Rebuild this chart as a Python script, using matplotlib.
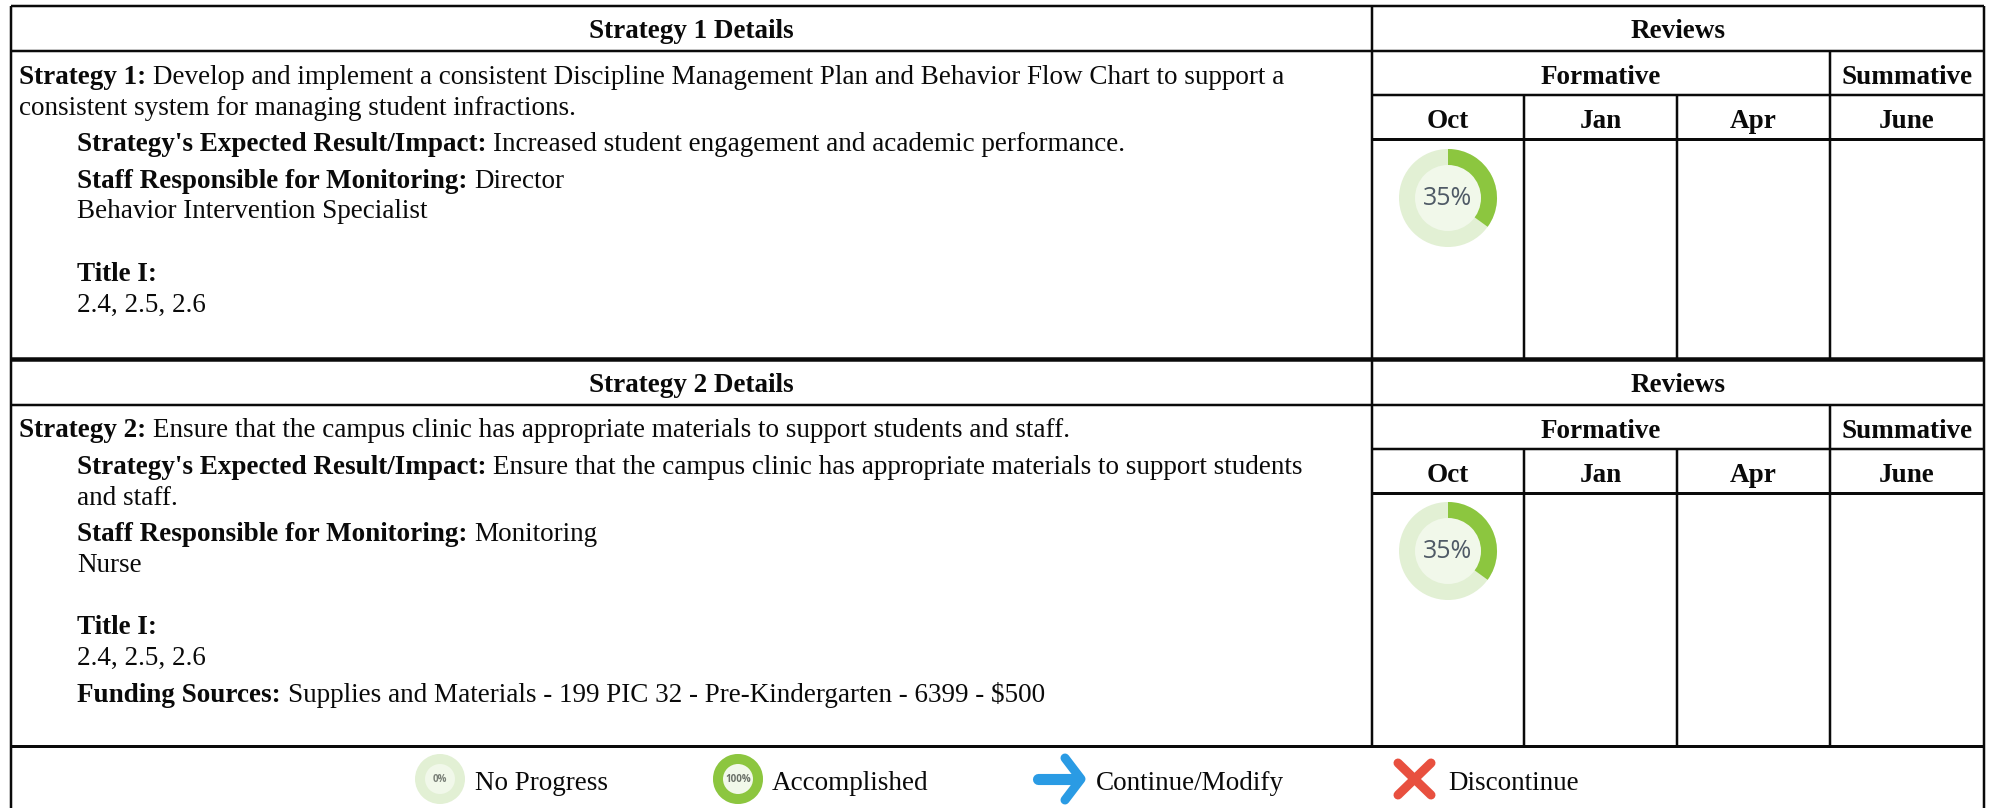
import matplotlib
matplotlib.use("Agg")
import matplotlib.pyplot as plt
from matplotlib.patches import Wedge, Circle

W, H = 1993, 808
SERIF = "Liberation Serif"
FS = 19.5
INK = "#0a0a0a"
DY = 1

# ---- content ----
strategy_titles = ["Strategy 1 Details", "Strategy 2 Details"]
review_months = ["Oct", "Jan", "Apr", "June"]
review_progress = [35, 35]          # Oct review, one per strategy
legend_labels = ["No Progress", "Accomplished", "Continue/Modify", "Discontinue"]
legend_progress = [0, 100]

strategy_1_lines = [
    (19, 83, "Strategy 1:", "Develop and implement a consistent Discipline Management Plan and Behavior Flow Chart to support a"),
    (19, 114, "", "consistent system for managing student infractions."),
    (77, 150, "Strategy's Expected Result/Impact:", "Increased student engagement and academic performance."),
    (77, 187, "Staff Responsible for Monitoring:", "Director"),
    (77, 217, "", "Behavior Intervention Specialist"),
    (77, 280, "Title I:", ""),
    (77, 311, "", "2.4, 2.5, 2.6"),
]
strategy_2_lines = [
    (19, 436, "Strategy 2:", "Ensure that the campus clinic has appropriate materials to support students and staff."),
    (77, 473, "Strategy's Expected Result/Impact:", "Ensure that the campus clinic has appropriate materials to support students"),
    (77, 504, "", "and staff."),
    (77, 540, "Staff Responsible for Monitoring:", "Monitoring"),
    (77, 571, "", "Nurse"),
    (77, 633, "Title I:", ""),
    (77, 664, "", "2.4, 2.5, 2.6"),
    (77, 701, "Funding Sources:", "Supplies and Materials - 199 PIC 32 - Pre-Kindergarten - 6399 - $500"),
]

fig = plt.figure(figsize=(W / 100, H / 100), dpi=100, facecolor="white")
ax = fig.add_axes([0, 0, 1, 1])
ax.set_xlim(0, W)
ax.set_ylim(H, 0)
ax.axis("off")


def hline(y, x0, x1, lw=2.5):
    ax.plot([x0, x1], [y, y], color=INK, lw=lw * 0.72, solid_capstyle="butt")


def vline(x, y0, y1, lw=2.5):
    ax.plot([x, x], [y0, y1], color=INK, lw=lw * 0.72, solid_capstyle="butt")


L, M, C1, C2, C3, R = 11, 1372, 1524, 1677, 1830, 1984

# outer frame and section dividers
hline(6, L, R)
vline(L, 6, H)
vline(R, 6, H)
vline(M, 6, 746)
hline(359, L, R, 4.5)
hline(746, L, R, 3)

# per-strategy grid + headers
for top, title in zip((6, 359), strategy_titles):
    off = top - 6 if top == 6 else 354
    hline(51 + off, L, R, 2.5)
    hline(95 + off, M, R, 2.5)
    hline(139 + off, M, R, 3)
    vline(C3, 51 + off, 359 if off == 0 else 746)
    vline(C1, 95 + off, 359 if off == 0 else 746)
    vline(C2, 95 + off, 359 if off == 0 else 746)
    ax.text((L + M) / 2, 37 + DY + off, title, family=SERIF, weight="bold",
            fontsize=FS, ha="center", va="baseline", color=INK)
    ax.text((M + R) / 2, 37 + DY + off, "Reviews", family=SERIF, weight="bold",
            fontsize=FS, ha="center", va="baseline", color=INK)
    ax.text((M + C3) / 2, 83 + DY + off, "Formative", family=SERIF, weight="bold",
            fontsize=FS, ha="center", va="baseline", color=INK)
    ax.text((C3 + R) / 2, 83 + DY + off, "Summative", family=SERIF, weight="bold",
            fontsize=FS, ha="center", va="baseline", color=INK)
    edges = [M, C1, C2, C3, R]
    for i, month in enumerate(review_months):
        ax.text((edges[i] + edges[i + 1]) / 2, 127 + DY + off, month, family=SERIF,
                weight="bold", fontsize=FS, ha="center", va="baseline", color=INK)


def rich_line(x, y, bold, regular):
    """Bold run followed by a regular run on one baseline."""
    cur = x
    rend = fig.canvas.get_renderer()
    if bold:
        t = ax.text(cur, y + DY, bold, family=SERIF, weight="bold", fontsize=FS,
                    ha="left", va="baseline", color=INK)
        cur = x + t.get_window_extent(rend).width + 7
    if regular:
        ax.text(cur, y + DY, regular, family=SERIF, fontsize=FS, ha="left",
                va="baseline", color=INK)


for line in strategy_1_lines + strategy_2_lines:
    rich_line(*line)


def donut(cx, cy, outer, inner, pct, label, fs, bar="#8CC63F", base="#E2F0D4", hub="#F1F8EA", col="#4F5A66", weight="normal"):
    ax.add_patch(Circle((cx, cy), outer, fc=base, ec="none", zorder=3))
    if pct > 0:
        ax.add_patch(Wedge((cx, cy), outer, -90, -90 + 360 * pct / 100,
                           fc=bar, ec="none", zorder=4))
    ax.add_patch(Circle((cx, cy), inner, fc=hub, ec="none", zorder=5))
    ax.text(cx, cy + 0.5, label, family="Open Sans", fontsize=fs, ha="center",
            va="center", color=col, zorder=6, weight=weight)


for cy, pct in zip((198, 551), review_progress):
    donut(1448, cy, 49, 33, pct, f"{pct}%", 18)

# legend row
LEG_BASE = 790
donut(440, 779, 25, 15, legend_progress[0], f"{legend_progress[0]}%", 7, col="#7A8078", weight="bold")
donut(738, 779, 25, 15, legend_progress[1], f"{legend_progress[1]}%", 7, col="#6A7068", weight="bold")
# Continue/Modify arrow
BLUE = "#2A9BE4"
ax.plot([1038, 1078], [779, 779], color=BLUE, lw=8, solid_capstyle="round", zorder=3)
ax.plot([1065, 1081, 1065], [758, 779, 800], color=BLUE, lw=6.5, solid_capstyle="round",
        solid_joinstyle="round", zorder=3)
# Discontinue cross
RED = "#E8503F"
ax.plot([1398, 1431], [763, 795], color=RED, lw=6.5, solid_capstyle="round", zorder=3)
ax.plot([1431, 1398], [763, 795], color=RED, lw=6.5, solid_capstyle="round", zorder=3)

for x, label in zip((475, 772, 1096, 1448), legend_labels):
    ax.text(x, LEG_BASE, label, family=SERIF, fontsize=FS, ha="left", va="baseline", color=INK)

fig.savefig("out.png", dpi=100, facecolor="white")
